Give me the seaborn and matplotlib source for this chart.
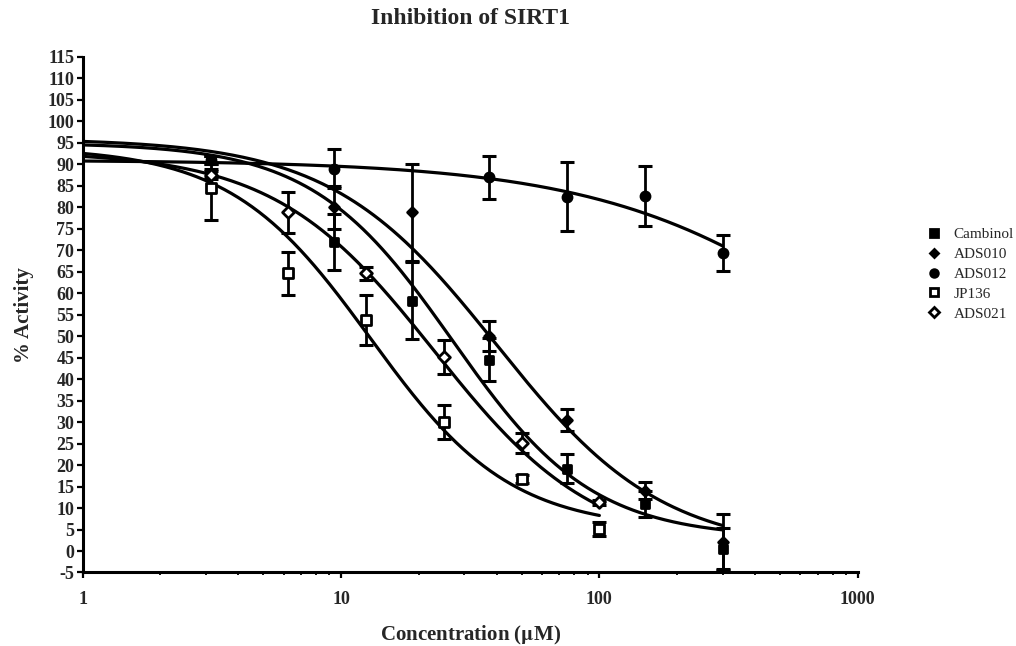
import numpy as np
import pandas as pd
import matplotlib
matplotlib.use("Agg")
import matplotlib.pyplot as plt
from matplotlib.lines import Line2D
import seaborn as sns

# ---------------- data ----------------
conc_a = [3.125, 9.375, 18.75, 37.5, 75, 150, 300]
cambinol = [91.0, 72.0, 58.3, 44.5, 19.2, 11.0, 0.5]
cambinol_err = [1.0, 6.5, 9.0, 5.0, 3.3, 3.0, 4.8]
ads010 = [88.0, 80.0, 78.8, 50.0, 30.5, 14.0, 2.0]
ads010_err = [1.0, 5.0, 11.4, 3.5, 2.6, 2.0, 6.5]

conc_c = [3.125, 9.375, 37.5, 75, 150, 300]
ads012 = [91.0, 89.0, 87.0, 82.5, 82.6, 69.4]
ads012_err = [1.0, 4.6, 5.0, 8.0, 7.0, 4.2]

conc_b = [3.125, 6.25, 12.5, 25, 50, 100]
jp136 = [84.5, 64.6, 53.8, 30.1, 16.8, 5.1]
jp136_err = [7.5, 5.0, 5.8, 4.0, 1.0, 1.7]
ads021 = [87.5, 78.8, 64.6, 45.2, 25.1, 11.3]
ads021_err = [1.0, 4.8, 1.6, 4.0, 2.3, 0.5]

# fitted dose-response curve parameters: top, bottom, IC50, Hill slope, x-end
fit_cambinol = [95.0, 3.0, 27.0, 1.6, 300]
fit_ads010 = [96.0, 0.0, 40.0, 1.35, 300]
fit_ads012 = [91.0, 0.0, 1369.0, 0.835, 300]
fit_jp136 = [94.0, 5.0, 13.0, 1.6, 100]
fit_ads021 = [93.0, 0.0, 23.0, 1.4, 100]

labels = ["Cambinol", "ADS010", "ADS012", "JP136", "ADS021"]
yticks = list(range(-5, 120, 5))
xticks = [1, 10, 100, 1000]

# ---------------- styling ----------------
sns.set_theme(style="ticks")
plt.rcParams["font.family"] = ["Liberation Serif", "DejaVu Serif"]
plt.rcParams["mathtext.fontset"] = "stix"

fig = plt.figure(figsize=(10.16, 6.46), dpi=100)
ax = fig.add_axes([0.0814, 0.1138, 0.7628, 0.798])

series = [
    (conc_a, cambinol, cambinol_err, fit_cambinol, "s", "black", 6.0),
    (conc_a, ads010, ads010_err, fit_ads010, "D", "black", 5.0),
    (conc_c, ads012, ads012_err, fit_ads012, "o", "black", 6.5),
    (conc_b, jp136, jp136_err, fit_jp136, "s", "white", 7.0),
    (conc_b, ads021, ads021_err, fit_ads021, "D", "white", 6.0),
]


def logistic(x, p):
    top, bottom, ic50, h, _ = p
    return bottom + (top - bottom) / (1.0 + (x / ic50) ** h)


for (cx, cy, ce, p, mk, fc, ms), lab in zip(series, labels):
    xs = np.logspace(0, np.log10(p[4]), 300)
    curve = pd.DataFrame({"x": xs, "y": logistic(xs, p)})
    sns.lineplot(data=curve, x="x", y="y", ax=ax, color="black",
                 linewidth=2.3, estimator=None, sort=False, legend=False)
    ax.errorbar(cx, cy, yerr=ce, fmt="none", ecolor="black", elinewidth=2.0,
                capsize=5.0, capthick=2.2, zorder=3)
    pts = pd.DataFrame({"x": cx, "y": cy})
    sns.scatterplot(data=pts, x="x", y="y", ax=ax, marker=mk,
                    s=(ms ** 2), facecolor=fc, edgecolor="black",
                    linewidth=2.0, zorder=4, legend=False)

ax.set_xscale("log")
ax.set_xlim(1, 1000)
ax.set_ylim(-5, 115)
ax.set_yticks(yticks)
ax.set_yticklabels([str(t) for t in yticks])
ax.set_xticks(xticks)
ax.set_xticklabels([str(t) for t in xticks])

for side in ["top", "right"]:
    ax.spines[side].set_visible(False)
for side in ["left", "bottom"]:
    ax.spines[side].set_linewidth(2.2)
    ax.spines[side].set_color("black")

ax.tick_params(axis="both", which="major", direction="out", length=4.5,
               width=1.6, color="black", labelsize=13)
ax.tick_params(axis="y", which="major", pad=1.5)
ax.tick_params(axis="x", which="major", pad=8.5)
ax.tick_params(axis="x", which="minor", direction="out", length=2.5,
               width=1.3, color="black")
for lbl in ax.get_xticklabels() + ax.get_yticklabels():
    lbl.set_fontweight("bold")

ax.set_xlabel("Concentration ($\\mathbf{\\mu}$M)", fontsize=15,
              fontweight="bold", labelpad=12)
ax.set_ylabel("% Activity", fontsize=15, fontweight="bold", labelpad=10)
ax.set_title("Inhibition of SIRT1", fontsize=17, fontweight="bold", pad=24)

handles = []
for (cx, cy, ce, p, mk, fc, ms), lab in zip(series, labels):
    handles.append(Line2D([], [], linestyle="none", marker=mk,
                          markersize=ms * 0.85, markerfacecolor=fc,
                          markeredgecolor="black", markeredgewidth=2.0,
                          label=lab))
leg = fig.legend(handles=handles, loc="upper left",
                 bbox_to_anchor=(0.907, 0.657), frameon=False,
                 fontsize=11, handlelength=0.8, handletextpad=0.9,
                 labelspacing=0.4, borderaxespad=0)

fig.savefig("out.png", dpi=100)
